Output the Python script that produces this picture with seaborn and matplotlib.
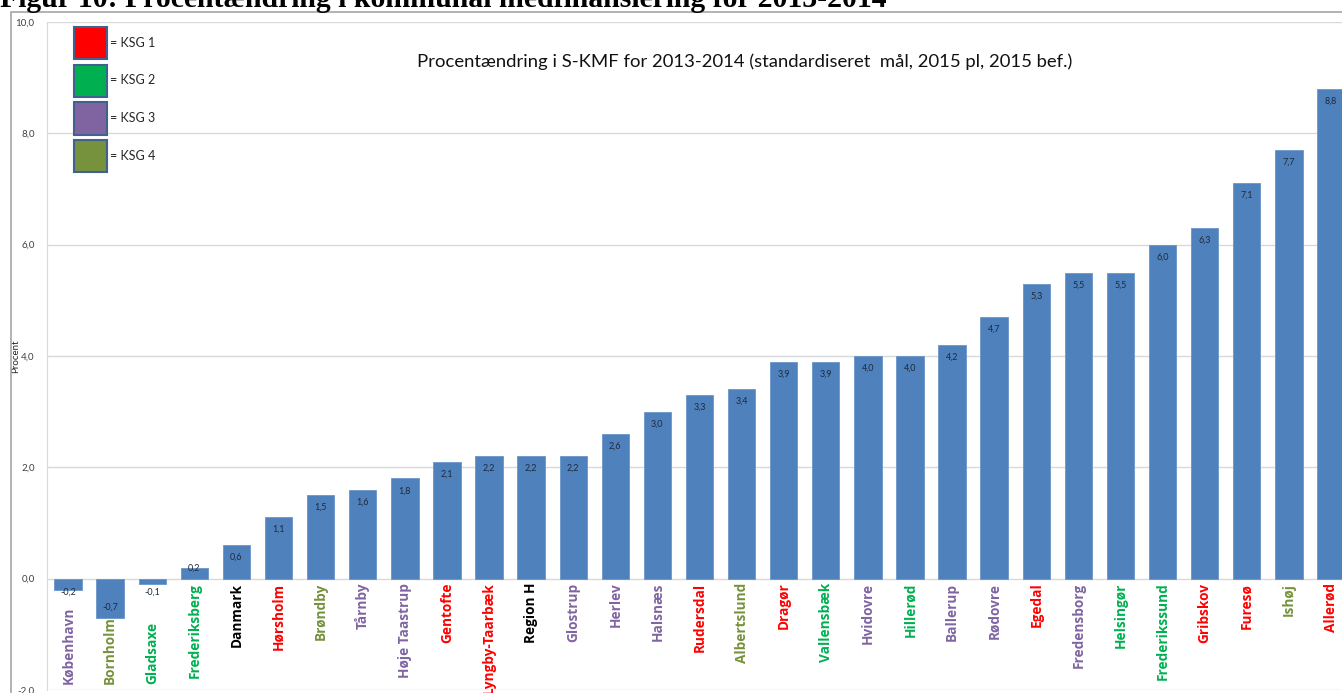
import matplotlib
matplotlib.use("Agg")
import matplotlib.pyplot as plt
from matplotlib.patches import Patch, Rectangle
from matplotlib.transforms import offset_copy
import seaborn as sns
import pandas as pd

# Municipalities ordered by percentage change
kommuner = [
    "København", "Bornholm", "Gladsaxe", "Frederiksberg", "Danmark", "Hørsholm",
    "Brøndby", "Tårnby", "Høje Taastrup", "Gentofte", "Lyngby-Taarbæk", "Region H",
    "Glostrup", "Herlev", "Halsnæs", "Rudersdal", "Albertslund", "Dragør",
    "Vallensbæk", "Hvidovre", "Hillerød", "Ballerup", "Rødovre", "Egedal",
    "Fredensborg", "Helsingør", "Frederikssund", "Gribskov", "Furesø", "Ishøj",
    "Allerød",
]
procent = [
    -0.2, -0.7, -0.1, 0.2, 0.6, 1.1,
    1.5, 1.6, 1.8, 2.1, 2.2, 2.2,
    2.2, 2.6, 3.0, 3.3, 3.4, 3.9,
    3.9, 4.0, 4.0, 4.2, 4.7, 5.3,
    5.5, 5.5, 6.0, 6.3, 7.1, 7.7,
    8.8,
]
# KSG group per municipality (0 = aggregate, drawn in black)
ksg = [
    3, 4, 2, 2, 0, 1,
    4, 3, 3, 1, 1, 0,
    3, 3, 3, 1, 4, 1,
    2, 3, 2, 3, 3, 1,
    3, 2, 2, 1, 1, 4,
    1,
]
ksg_labels = ["= KSG 1", "= KSG 2", "= KSG 3", "= KSG 4"]
yticks = [-2, 0, 2, 4, 6, 8, 10]

ksg_colors = {0: "#000000", 1: "#FF0000", 2: "#00B050", 3: "#8064A2", 4: "#76923C"}
bar_color = "#4F81BD"

sns.set_style("white")
plt.rcParams["font.family"] = ["Lato", "DejaVu Sans"]

df = pd.DataFrame({"kommune": kommuner, "procent": procent})

W, H = 1342, 693
fig = plt.figure(figsize=(W / 100, H / 100), dpi=100)
ax = fig.add_axes([47 / W, 3 / H, 1305 / W, 668 / H])

sns.barplot(data=df, x="kommune", y="procent", color=bar_color, saturation=1,
            width=0.65, ax=ax, edgecolor="#6a95c9", linewidth=0.6, zorder=3)

ax.set_xlim(-0.5, len(kommuner) - 0.5)
ax.set_ylim(-2, 10)
ax.set_yticks(yticks)
ax.set_yticklabels([f"{t:.1f}".replace(".", ",") for t in yticks])
ax.tick_params(axis="y", length=0, pad=9, labelsize=7, labelcolor="#404040")
ax.yaxis.grid(True, color="#d9d9d9", linewidth=1, zorder=0)
ax.set_axisbelow(True)

for side in ("top", "right", "bottom"):
    ax.spines[side].set_visible(False)
ax.spines["left"].set_color("#d9d9d9")
ax.tick_params(axis="x", length=0, labelbottom=False)
ax.set_xlabel("")

ax.set_ylabel("Procent", fontsize=7, color="#262626")
ax.yaxis.set_label_coords(-0.0207, 0.5)

# Category names: hang under the zero line, or sit on the bottom edge
# for bars that reach below zero
below_zero = offset_copy(ax.transData, fig=fig, x=0, y=-4, units="dots")
above_floor = offset_copy(ax.transData, fig=fig, x=0, y=6, units="dots")
for i, (name, v, g) in enumerate(zip(kommuner, procent, ksg)):
    if v >= 0:
        ax.text(i, 0, name, transform=below_zero, rotation=90, ha="center",
                va="top", fontsize=9.8, fontweight="bold",
                family=["Open Sans", "DejaVu Sans"], color=ksg_colors[g],
                zorder=6)
    else:
        ax.text(i, -2, name, transform=above_floor, rotation=90, ha="center",
                va="bottom", fontsize=9.8, fontweight="bold",
                family=["Open Sans", "DejaVu Sans"], color=ksg_colors[g],
                zorder=6)

# Value labels just inside the bar ends
for i, v in enumerate(procent):
    if v >= 0:
        y = max(v - 0.22, 0.18)
    else:
        y = min(v + 0.19, -0.24)
    ax.text(i, y, f"{v:.1f}".replace(".", ","), ha="center", va="center",
            fontsize=6.5, color="#1f2a3a", zorder=5)

ax.text(0.535, 0.94,
        "Procentændring i S-KMF for 2013-2014 (standardiseret  mål, 2015 pl, 2015 bef.)",
        transform=ax.transAxes, ha="center", va="center", fontsize=13.3,
        color="#111111")

handles = [Patch(facecolor=ksg_colors[k], edgecolor="#41618f", linewidth=1.5)
           for k in (1, 2, 3, 4)]
ax.legend(handles, ksg_labels, loc="upper left",
          bbox_to_anchor=(27 / 1305, 1 - 5 / 668), frameon=False,
          fontsize=9, handlelength=2.6, handleheight=3.59, handletextpad=0.3,
          labelspacing=0.44, borderpad=0, borderaxespad=0)

# Outer chart frame and document heading
fig.add_artist(Rectangle((11 / W, -0.05), 1.2, 1 - 12 / H + 0.05,
                         transform=fig.transFigure, fill=False,
                         edgecolor="#a6a6a6", linewidth=1.2))
fig.text(0, 1 - 7 / H,
         "Figur 10: Procentændring i kommunal medfinansiering for 2013-2014",
         family="Liberation Serif", fontweight="bold", fontsize=21.4,
         ha="left", va="baseline", color="black")

fig.savefig("out.png", dpi=100)
